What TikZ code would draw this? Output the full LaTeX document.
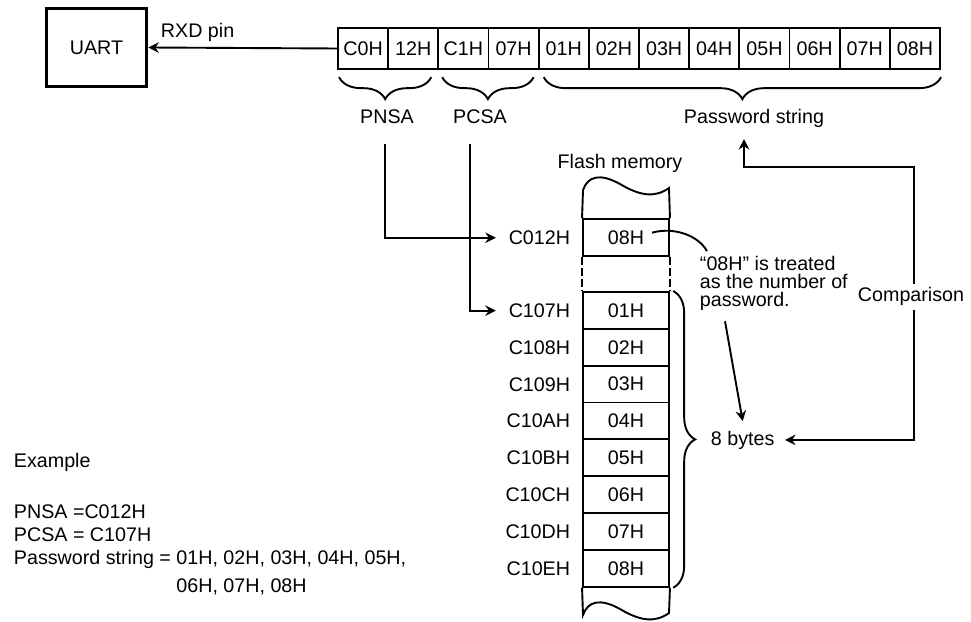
\documentclass[tikz,border=0pt]{standalone}
\usepackage{fontspec}
\setmainfont{Liberation Sans}
\usetikzlibrary{arrows.meta,decorations.pathreplacing}

\tikzset{>={Stealth[length=7.5pt,width=7.5pt,inset=2.5pt]}}

\begin{document}
\begin{tikzpicture}[x=0.025cm,y=-0.025cm,line width=1.35pt,
  every node/.style={font=\fontsize{14}{16.3}\selectfont,inner sep=0pt},
  cellbox/.style={draw,minimum width=1.254cm,minimum height=1.025cm},
  membox/.style={draw,minimum width=2.15cm,minimum height=0.921cm},
  addr/.style={anchor=base east},
  brc/.style={decorate,decoration={brace,amplitude=0.55cm}},
  wall/.style={dash pattern=on 0.2cm off 0.08cm}]

  \useasboundingbox (0,0) rectangle (971,622);

  \node[draw,line width=2.6pt,minimum width=2.5cm,minimum height=1.95cm] (uart) at (96.5,47.5) {UART};
  \node[anchor=base west] (rxd) at (160,38) {RXD pin};

  \foreach \t [count=\i] in {C0H,12H,C1H,07H,01H,02H,03H,04H,05H,06H,07H,08H}
    \node[cellbox] (b\i) at ({338+50.17*(\i-0.5)},48.5) {\t};
  \draw[->] (b1.west) -- (uart.east);

  \draw[brc] ([xshift=-0.2cm,yshift=-0.18cm]b2.south east) -- ([xshift=0.05cm,yshift=-0.18cm]b1.south west);
  \draw[brc] ([xshift=-0.15cm,yshift=-0.18cm]b4.south east) -- ([xshift=0.12cm,yshift=-0.18cm]b3.south west);
  \draw[brc] ([yshift=-0.18cm]b12.south east) -- ([xshift=0.15cm,yshift=-0.18cm]b5.south west);
  \node[anchor=base] (pnsa) at (387,124) {PNSA};
  \node[anchor=base] (pcsa) at (480,124) {PCSA};
  \node[anchor=base] (pwd) at (754,124) {Password string};

  \node[anchor=base] (flash) at (620,169) {Flash memory};
  \node[membox] (m0) at (626,237.5) {08H};
  \foreach \t [count=\k] in {01H,02H,03H,04H,05H,06H,07H,08H}
    \node[membox] (m\k) at (626,{310.4+36.85*(\k-1)}) {\t};
  \draw (m0.north west) -- (583,190) .. controls (588,176) and (600,173) .. (620,184)
    .. controls (640,196) and (655,198) .. (669,188) -- (m0.north east);
  \draw (m8.south west) -- (583,615) .. controls (588,601) and (600,598) .. (620,609)
    .. controls (640,621) and (655,623) .. (669,613) -- (m8.south east);
  \draw[wall] (m0.south west) -- (m1.north west);
  \draw[wall] (m0.south east) -- (m1.north east);

  \node[addr] (a0) at (571,244.5) {C012H};
  \foreach \t [count=\k] in {C107H,C108H,C109H,C10AH,C10BH,C10CH,C10DH,C10EH}
    \node[addr] (a\k) at (571,{317.4+36.85*(\k-1)}) {\t};

  \draw[->] ([xshift=-0.05cm,yshift=-0.47cm]pnsa.south) |- ([xshift=-0.3cm]a0.west);
  \draw[->] ([xshift=-0.25cm,yshift=-0.47cm]pcsa.south) |- ([xshift=-0.3cm]a1.west);

  \draw[brc] ([xshift=0.08cm]m1.north east) -- ([xshift=0.08cm]m8.south east);
  \node[anchor=base west] (bytes) at (710,445) {8 bytes};

  \node[anchor=north west,align=left,font=\fontsize{14}{12.8}\selectfont] (note) at (699,255)
    {“08H” is treated\\as the number of\\password.};
  \draw ([xshift=0.65cm,yshift=0.12cm]m0.center) .. controls (672,227) and (697,234) .. ([xshift=0.2cm,yshift=0.1cm]note.north west);
  \draw[->] ([xshift=0.65cm,yshift=-0.25cm]note.south west) -- ([yshift=0.215cm]bytes.north);

  \coordinate (cmpc) at (914,167);
  \draw[<->] ([xshift=-0.25cm,yshift=-0.25cm]pwd.south) |- (cmpc) |- ([xshift=0.24cm]bytes.east);
  \node[anchor=base,fill=white,inner xsep=1pt,inner ysep=3pt] (cmp) at (911,302) {Comparison};

  \node[anchor=base west] (ex) at (13,467) {Example};
  \node[anchor=north west] (exlist) at (13,502) {\begin{tabular}{@{}l@{}l@{}}
    PNSA =C012H\\
    PCSA = C107H\\
    Password string =\mbox{ } & 01H, 02H, 03H, 04H, 05H,\\[0.12cm]
    & 06H, 07H, 08H
  \end{tabular}};
\end{tikzpicture}
\end{document}
